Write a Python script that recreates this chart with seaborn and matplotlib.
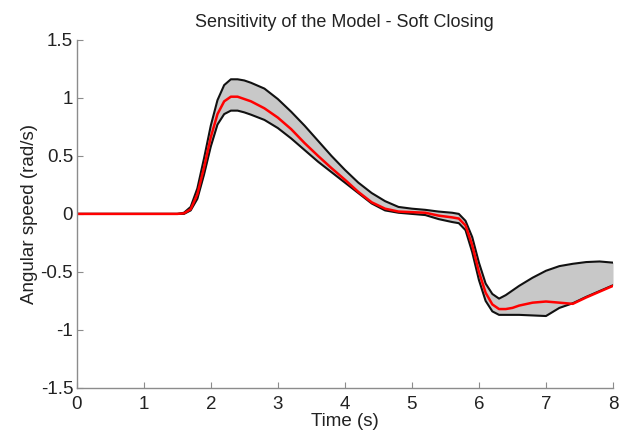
import matplotlib
matplotlib.use("Agg")
import matplotlib.pyplot as plt
import seaborn as sns
import pandas as pd

time_s = [0.0, 1.0, 1.5, 1.6, 1.7, 1.8, 1.9, 2.0, 2.1, 2.2, 2.3, 2.4, 2.5, 2.6, 2.8,
          3.0, 3.2, 3.4, 3.6, 3.8, 4.0, 4.2, 4.4, 4.6, 4.8, 5.0, 5.2, 5.4, 5.6, 5.7,
          5.8, 5.9, 6.0, 6.1, 6.2, 6.3, 6.4, 6.5, 6.6, 6.8, 7.0, 7.2, 7.4, 7.6, 7.8, 8.0]

upper = [0.0, 0.0, 0.0, 0.01, 0.06, 0.22, 0.48, 0.76, 0.98, 1.11, 1.16, 1.16, 1.15, 1.13, 1.08,
         0.99, 0.88, 0.76, 0.63, 0.50, 0.38, 0.27, 0.18, 0.11, 0.06, 0.045, 0.035, 0.02, 0.01, 0.0,
         -0.06, -0.20, -0.42, -0.60, -0.69, -0.73, -0.70, -0.66, -0.62, -0.55, -0.49, -0.45, -0.43, -0.415, -0.41, -0.42]

nominal = [0.0, 0.0, 0.0, 0.005, 0.04, 0.17, 0.40, 0.66, 0.86, 0.97, 1.01, 1.01, 0.99, 0.97, 0.91,
           0.83, 0.73, 0.61, 0.50, 0.395, 0.295, 0.19, 0.10, 0.045, 0.02, 0.015, 0.01, -0.015, -0.03, -0.04,
           -0.10, -0.27, -0.50, -0.68, -0.78, -0.82, -0.82, -0.81, -0.79, -0.765, -0.755, -0.765, -0.775, -0.72, -0.67, -0.62]

lower = [0.0, 0.0, 0.0, 0.0, 0.03, 0.13, 0.34, 0.58, 0.77, 0.86, 0.89, 0.89, 0.875, 0.855, 0.81,
         0.74, 0.65, 0.55, 0.45, 0.36, 0.27, 0.18, 0.09, 0.03, 0.01, 0.0, -0.01, -0.045, -0.07, -0.08,
         -0.14, -0.33, -0.57, -0.75, -0.84, -0.87, -0.87, -0.87, -0.87, -0.875, -0.88, -0.81, -0.77, -0.715, -0.665, -0.615]

x_ticks = [0, 1, 2, 3, 4, 5, 6, 7, 8]
y_ticks = [-1.5, -1, -0.5, 0, 0.5, 1, 1.5]
y_tick_labels = ["-1.5", "-1", "-0.5", "0", "0.5", "1", "1.5"]

sns.set_style("ticks")
plt.rcParams["font.family"] = ["Liberation Sans", "DejaVu Sans"]

df = pd.DataFrame({"t": time_s, "upper": upper, "nominal": nominal, "lower": lower})

fig = plt.figure(figsize=(6.27, 4.33), dpi=100)
ax = fig.add_axes([0.1223, 0.104, 0.8554, 0.804])

ax.fill_between(df["t"], df["lower"], df["upper"], color="#c8c8c8", linewidth=0)
sns.lineplot(data=df, x="t", y="upper", ax=ax, color="#111111", linewidth=1.5)
sns.lineplot(data=df, x="t", y="lower", ax=ax, color="#111111", linewidth=1.5)
sns.lineplot(data=df, x="t", y="nominal", ax=ax, color="#ff0000", linewidth=1.8)

ax.set_xlim(0, 8)
ax.set_ylim(-1.5, 1.5)
ax.set_xticks(x_ticks)
ax.set_xticklabels([str(v) for v in x_ticks])
ax.set_yticks(y_ticks)
ax.set_yticklabels(y_tick_labels)
ax.tick_params(direction="in", length=4, width=0.8, colors="#8c8c8c", labelcolor="#222222", labelsize=13.5)
ax.tick_params(axis="x", pad=6)
ax.tick_params(axis="y", pad=2.5)
for s in ["top", "right"]:
    ax.spines[s].set_visible(False)
for s in ["left", "bottom"]:
    ax.spines[s].set_color("#8c8c8c")
    ax.spines[s].set_linewidth(1.0)

ax.set_xlabel("Time (s)", fontsize=13.5, color="#222222", labelpad=0)
ax.set_ylabel("Angular speed (rad/s)", fontsize=13.5, color="#222222", labelpad=2)
ax.set_title("Sensitivity of the Model - Soft Closing", fontsize=13, color="#222222", pad=9)

fig.savefig("out.png", dpi=100)
